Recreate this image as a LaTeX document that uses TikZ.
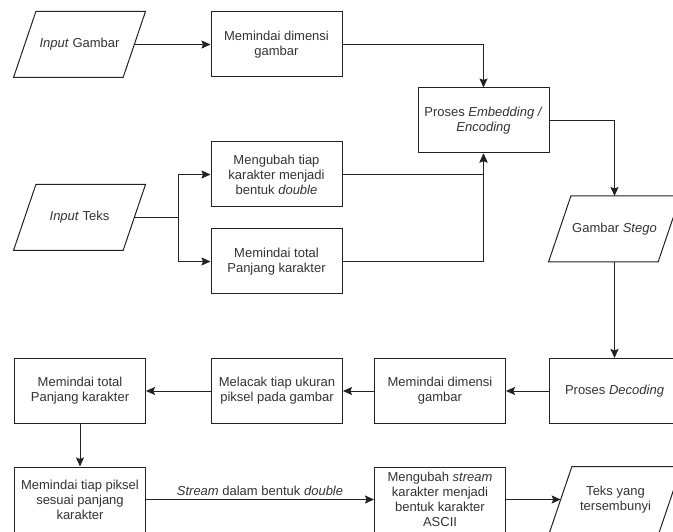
\documentclass[tikz,border=0pt]{standalone}
\usepackage{fontspec}
\setmainfont{Liberation Sans}
\usepackage{xcolor}
\usetikzlibrary{arrows.meta,positioning}
\definecolor{garis}{HTML}{222222}
\definecolor{teks}{HTML}{333333}

\begin{document}
\begin{tikzpicture}[x=1pt, y=-1pt,
    proses/.style={draw=garis, line width=1pt, fill=white, text=teks, align=center,
        minimum width=131pt, minimum height=65pt, inner sep=2pt,
        font=\fontsize{13}{15}\selectfont},
    data/.style={proses, draw=none, fill=none, minimum width=108.6pt},
    miring/.style={draw=garis, line width=1pt, line join=miter},
    alur/.style={draw=garis, line width=1pt, -{Stealth[length=9pt,width=8pt,inset=1.5pt]}}]
    \useasboundingbox (0,0) rectangle (673,532);

    % bagian penyisipan
    \node[data] (inputGambar) at (79.5,44.5) {\emph{Input} Gambar};
    \node[proses] (dimensi1) at (276.5,44.5) {Memindai dimensi\\gambar};
    \node[proses] (embed) at (483.5,120.5) {Proses \emph{Embedding /}\\\emph{Encoding}};
    \node[data] (inputTeks) at (79.5,217.5) {\emph{Input} Teks};
    \node[proses] (ubahDouble) at (276.5,174.5) {Mengubah tiap\\karakter menjadi\\bentuk \emph{double}};
    \node[proses] (total1) at (276.5,261.5) {Memindai total\\Panjang karakter};
    \node[data] (stego) at (614.5,229) {Gambar \emph{Stego}};
    \coordinate (cabang) at (178,217.5);

    \draw[alur] (inputGambar) -- (dimensi1);
    \draw[alur] (dimensi1) -| (embed);
    \draw[line width=1pt, draw=garis] (inputTeks) -- (cabang);
    \draw[alur] (cabang) |- (ubahDouble);
    \draw[alur] (cabang) |- (total1);
    \draw[alur] (ubahDouble) -| (embed);
    \draw[alur] (total1) -| (embed);
    \draw[alur] (embed) -| (stego);

    % bagian ekstraksi
    \node[proses] (decode) at (614.5,391) {Proses \emph{Decoding}};
    \node[proses] (dimensi2) at (440,391) {Memindai dimensi\\gambar};
    \node[proses] (lacak) at (277,391) {Melacak tiap ukuran\\piksel pada gambar};
    \node[proses] (total2) at (80,391) {Memindai total\\Panjang karakter};
    \node[proses] (piksel) at (80,499.5) {Memindai tiap piksel\\sesuai panjang\\karakter};
    \node[proses] (ascii) at (440,499.5) {Mengubah \emph{stream}\\karakter menjadi\\bentuk karakter\\ASCII};
    \node[data] (hasil) at (615.5,499.5) {Teks yang\\tersembunyi};

    \draw[alur] (stego) -- (decode);
    \draw[alur] (decode) -- (dimensi2);
    \draw[alur] (dimensi2) -- (lacak);
    \draw[alur] (lacak) -- (total2);
    \draw[alur] (total2) -- (piksel);
    \draw[alur] (piksel) -- node[above, text=teks, font=\fontsize{13}{15}\selectfont] {\emph{Stream} dalam bentuk \emph{double}} (ascii);
    \draw[alur] (ascii) -- (hasil);

    % jajaran genjang untuk input/output
    \foreach \n in {inputGambar, inputTeks, stego, hasil}
        \draw[miring] ([xshift=11.2pt]\n.north west) -- ([xshift=11.2pt]\n.north east)
            -- ([xshift=-11.2pt]\n.south east) -- ([xshift=-11.2pt]\n.south west) -- cycle;
\end{tikzpicture}
\end{document}
